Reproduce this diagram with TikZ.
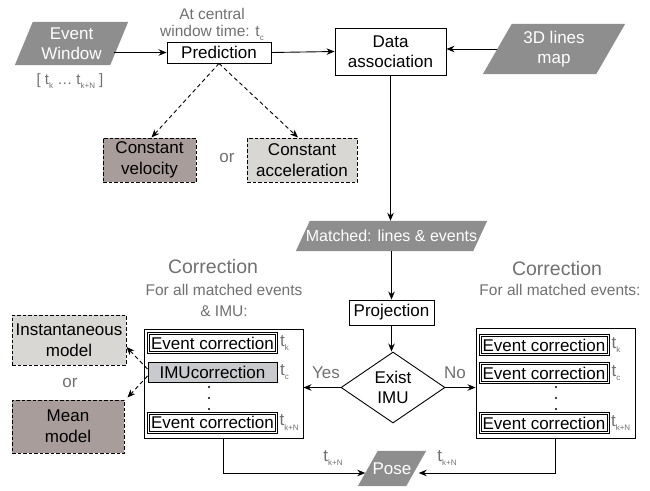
\documentclass[tikz,border=0pt]{standalone}
\usepackage{fontspec}
\setmainfont{Liberation Sans}
\usetikzlibrary{arrows.meta,shapes.geometric,backgrounds}
\definecolor{txtgray}{HTML}{707070}
\definecolor{parafill}{HTML}{8E8E8E}
\definecolor{brownbox}{HTML}{A99D9B}
\definecolor{lightbox}{HTML}{D8D7D3}
\definecolor{imufill}{HTML}{C9CACD}
\newcommand\tsb[2][8]{t\raisebox{-0.5ex}{\fontsize{#1}{#1}\selectfont #2}}
\newcommand\parashape[2]{\fill[parafill] ([xshift=-#2]#1.south west) -- ([xshift=#2]#1.north west) -- ([xshift=#2]#1.north east) -- ([xshift=-#2]#1.south east) -- cycle;}
\newcommand\innerframe[1]{\draw[line width=0.6pt] ([shift={(2.2pt,2.2pt)}]#1.south west) rectangle ([shift={(-2.2pt,-2.2pt)}]#1.north east);}
\tikzset{
 base/.style={inner sep=0pt, align=center, font=\fontsize{17}{20}\selectfont},
 box/.style={base, draw, line width=0.9pt, fill=white},
 para/.style={base, text=white},
 dbox/.style={base, draw, line width=1pt, dash pattern=on 3.5pt off 2pt},
 ebox/.style={base, draw, line width=0.7pt, minimum width=130, minimum height=21},
 ibox/.style={base, draw, line width=0.9pt, fill=imufill, minimum width=129, minimum height=20},
 gtext/.style={text=txtgray, inner sep=0pt, align=center},
 tlab/.style={gtext, anchor=west, font=\fontsize{17}{20}\selectfont},
 arr/.style={-{Stealth[length=8pt,width=6.5pt]}, line width=0.9pt},
 darr/.style={-{Stealth[length=8pt,width=6.5pt]}, line width=0.9pt, dash pattern=on 4pt off 3pt},
}
\begin{document}
\begin{tikzpicture}[x=1pt,y=-1pt]
\useasboundingbox (0,0) rectangle (650,490);
% top row
\node[para, minimum width=95, minimum height=43] (ew) at (71.5,43.5) {Event\\Window};
\node[gtext, font=\fontsize{15}{17}\selectfont] (ewlab) at (70,81) {[ \tsb{k} … \tsb{k+N} ]};
\node[box, minimum width=104, minimum height=21] (pred) at (219,52.5) {Prediction};
\node[gtext, font=\fontsize{15.5}{17}\selectfont] (predlab) at (212,24) {At central\\window time: \tsb{c}};
\node[box, minimum width=111, minimum height=47] (da) at (390.5,51.5) {Data\\association};
\node[para, minimum width=113, minimum height=50] (map) at (554,49) {3D lines\\map};
% prediction models
\node[dbox, fill=brownbox, minimum width=93, minimum height=44, font=\fontsize{17}{21}\selectfont] (cv) at (149.5,160) {Constant\\velocity};
\node[dbox, fill=lightbox, minimum width=110, minimum height=44, font=\fontsize{17}{21}\selectfont] (ca) at (302,160) {Constant\\acceleration};
\node[gtext, font=\fontsize{17}{20}\selectfont] (or1) at (227,158) {or};
% middle column
\node[para, minimum width=177, minimum height=30, font=\fontsize{16}{19}\selectfont] (matched) at (391.5,236) {Matched: lines \& events};
\node[box, minimum width=85, minimum height=25] (proj) at (391.5,312.5) {Projection};
\node[base, draw, diamond, aspect=1.46, minimum width=104, minimum height=71, line width=0.9pt] (dia) at (393,387.5) {Exist\\IMU};
\node[gtext, font=\fontsize{17}{20}\selectfont] (yes) at (326,373) {Yes};
\node[gtext, font=\fontsize{17}{20}\selectfont] (no) at (455,373) {No};
% left correction
\node[gtext, font=\fontsize{19.5}{22}\selectfont] (lcor) at (213,267) {Correction};
\node[gtext, font=\fontsize{15.5}{21}\selectfont] (lsub) at (224,300.5) {For all matched events\\\& IMU:};
\node[draw, line width=0.9pt, minimum width=159, minimum height=109, inner sep=0pt] (lbox) at (223.5,383.5) {};
\node[ebox] (le1) at (212.5,343) {Event correction};
\node[ibox] (limu) at (212.5,372) {IMUcorrection};
\node[ebox] (le3) at (212.5,422.5) {Event correction};
\node[tlab] (lt1) at ([xshift=2pt]le1.east) {\tsb{k}};
\node[tlab] (lt2) at ([xshift=2.5pt]limu.east) {\tsb{c}};
\node[tlab] (lt3) at ([xshift=1.5pt]le3.east) {\tsb{k+N}};
\foreach \yy in {387,398,409} \fill (209,\yy) circle (1.1pt);
% right correction
\node[gtext, font=\fontsize{19.5}{22}\selectfont] (rcor) at (557,269) {Correction};
\node[gtext, font=\fontsize{15.5}{21}\selectfont] (rsub) at (560,290) {For all matched events:};
\node[draw, line width=0.9pt, minimum width=159, minimum height=110, inner sep=0pt] (rbox) at (555.5,383) {};
\node[ebox] (re1) at (544,345) {Event correction};
\node[ebox] (re2) at (544,373) {Event correction};
\node[ebox] (re3) at (544,423) {Event correction};
\node[tlab] (rt1) at ([xshift=2pt]re1.east) {\tsb{k}};
\node[tlab] (rt2) at ([xshift=2pt]re2.east) {\tsb{c}};
\node[tlab] (rt3) at ([xshift=1.5pt]re3.east) {\tsb{k+N}};
\foreach \yy in {387,398,409} \fill (556,\yy) circle (1.1pt);
\innerframe{le1}\innerframe{le3}\innerframe{re1}\innerframe{re2}\innerframe{re3}
% IMU models
\node[dbox, fill=lightbox, minimum width=114, minimum height=50, font=\fontsize{17}{21}\selectfont] (inst) at (69,340) {Instantaneous\\model};
\node[gtext, font=\fontsize{17}{20}\selectfont] (or2) at (70,383) {or};
\node[dbox, fill=brownbox, minimum width=112, minimum height=53, font=\fontsize{17}{21}\selectfont] (mean) at (68,426.5) {Mean\\model};
% pose
\node[para, minimum width=48, minimum height=35] (pose) at (392,468.5) {Pose};
\node[gtext, font=\fontsize{17}{20}\selectfont] (ptl) at (333,458) {\tsb{k+N}};
\node[gtext, font=\fontsize{17}{20}\selectfont] (ptr) at (447,458) {\tsb{k+N}};
% parallelogram shapes
\begin{scope}[on background layer]
\parashape{ew}{9}
\parashape{map}{14.5}
\parashape{matched}{7}
\parashape{pose}{10}
\end{scope}
% connectors
\draw[arr] ([xshift=-5pt,yshift=-9pt]ew.east) -- (pred.west);
\draw[arr] (pred.east) -- (da.west);
\draw[arr] (map.west) -- (map.west -| da.east);
\draw[darr] (pred.south) -- ([xshift=2pt]cv.north);
\draw[darr] (pred.south) -- ([xshift=-4pt]ca.north);
\draw[arr] (da.south) -- (da.south |- matched.north);
\draw[arr] (matched.south -| proj.north) -- (proj.north);
\draw[arr] (proj.south) -- (proj.south |- dia.north);
\draw[arr] (dia.west) -- (dia.west -| lbox.east);
\draw[arr] (dia.east) -- (dia.east -| rbox.west);
\draw[darr] ([yshift=3pt]limu.west) -- ([yshift=-7pt]inst.east);
\draw[darr] ([yshift=-4pt]limu.west) -- ([xshift=3pt,yshift=2pt]mean.north east);
\draw[arr] (lbox.south) |- ([xshift=-2.5pt,yshift=-4.5pt]pose.west);
\draw[arr] (rbox.south) |- ([xshift=2.5pt,yshift=-4.5pt]pose.east);
\end{tikzpicture}
\end{document}
